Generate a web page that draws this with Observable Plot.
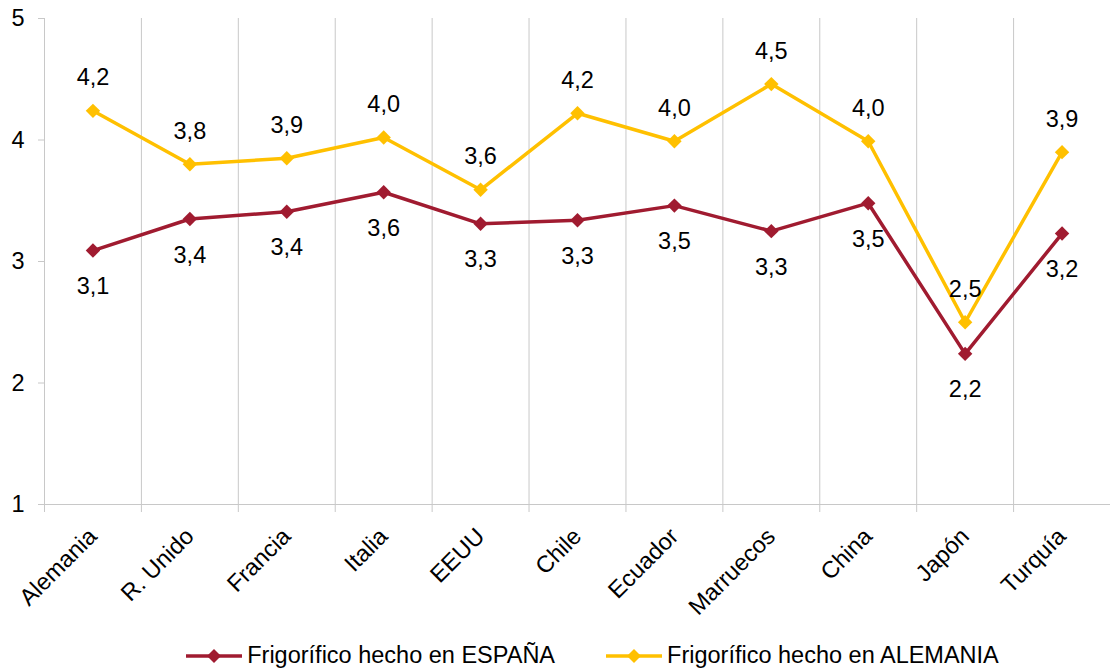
<!DOCTYPE html>
<html>
<head>
<meta charset="utf-8">
<script src="https://cdn.jsdelivr.net/npm/d3@7"></script>
<script src="https://cdn.jsdelivr.net/npm/@observablehq/plot@0.6"></script>
<style>
  body { margin: 0; background: #fff; font-family: "Liberation Sans", Arial, sans-serif; }
  #legend { display: flex; justify-content: center; align-items: center; gap: 51px; height: 31px; font-size: 23.5px; color: #000; margin-left: 75px; }
  .item { display: flex; align-items: center; gap: 5px; }
</style>
</head>
<body>
<div id="chart"></div>
<div id="legend"></div>
<script>
const categories = ["Alemania", "R. Unido", "Francia", "Italia", "EEUU", "Chile", "Ecuador", "Marruecos", "China", "Japón", "Turquía"];
const espana   = [3.09, 3.35, 3.41, 3.57, 3.31, 3.34, 3.46, 3.25, 3.48, 2.24, 3.23];
const alemania = [4.24, 3.80, 3.85, 4.02, 3.59, 4.22, 3.99, 4.46, 3.99, 2.50, 3.90];
const seriesNames = ["Frigorífico hecho en ESPAÑA", "Frigorífico hecho en ALEMANIA"];
const seriesColors = ["#A01B30", "#FFC000"];
const yTicks = [1, 2, 3, 4, 5];

const idx = categories.map((_, i) => i);
const boundaries = categories.map((_, i) => i - 0.5).concat([categories.length - 0.5]);
const rowsE = categories.map((c, i) => ({i, c, v: espana[i]}));
const rowsA = categories.map((c, i) => ({i, c, v: alemania[i]}));
const fmt = v => v.toFixed(1).replace(".", ",");
const font = "Liberation Sans, Arial, sans-serif";
const fs = 23.5;

const plot = Plot.plot({
  width: 1110,
  height: 640,
  marginLeft: 44,
  marginRight: 0,
  marginTop: 18,
  marginBottom: 136,
  style: {fontFamily: font, fontSize: fs + "px", color: "#000", background: "#fff"},
  x: {type: "linear", domain: [-0.5, categories.length - 0.5]},
  y: {domain: [1, 5]},
  marks: [
    Plot.gridX(boundaries, {stroke: "#c8c8c8", strokeOpacity: 1, strokeWidth: 1}),
    Plot.ruleY([1], {stroke: "#c8c8c8", strokeWidth: 1.2}),
    Plot.axisX(boundaries, {tickSize: 8, tickFormat: () => "", stroke: "#c8c8c8", label: null}),
    Plot.axisX(idx, {tickSize: 0, tickPadding: 28, tickRotate: -45, tickFormat: i => categories[i], label: null, fontSize: fs}),
    Plot.axisY(yTicks, {tickSize: 6, tickPadding: 14, stroke: "#c8c8c8", label: null, fontSize: fs, tickFormat: d => String(d)}),
    Plot.line(rowsE, {x: "i", y: "v", stroke: seriesColors[0], strokeWidth: 3.5}),
    Plot.line(rowsA, {x: "i", y: "v", stroke: seriesColors[1], strokeWidth: 3.5}),
    Plot.dot(rowsE, {x: "i", y: "v", symbol: "diamond2", r: 6.5, fill: seriesColors[0], stroke: null}),
    Plot.dot(rowsA, {x: "i", y: "v", symbol: "diamond2", r: 6.5, fill: seriesColors[1], stroke: null}),
    Plot.text(rowsE, {x: "i", y: "v", text: d => fmt(d.v), dy: 36, fontSize: fs, fill: "#000"}),
    Plot.text(rowsA, {x: "i", y: "v", text: d => fmt(d.v), dy: -33, fontSize: fs, fill: "#000"})
  ]
});
document.getElementById("chart").appendChild(plot);

const legend = document.getElementById("legend");
seriesNames.forEach((name, k) => {
  const item = document.createElement("div");
  item.className = "item";
  item.innerHTML = `<svg width="56" height="16"><line x1="0" x2="56" y1="8" y2="8" stroke="${seriesColors[k]}" stroke-width="3.5"/><path d="M28,1 L35,8 L28,15 L21,8 Z" fill="${seriesColors[k]}"/></svg><span>${name}</span>`;
  legend.appendChild(item);
});
</script>
</body>
</html>
